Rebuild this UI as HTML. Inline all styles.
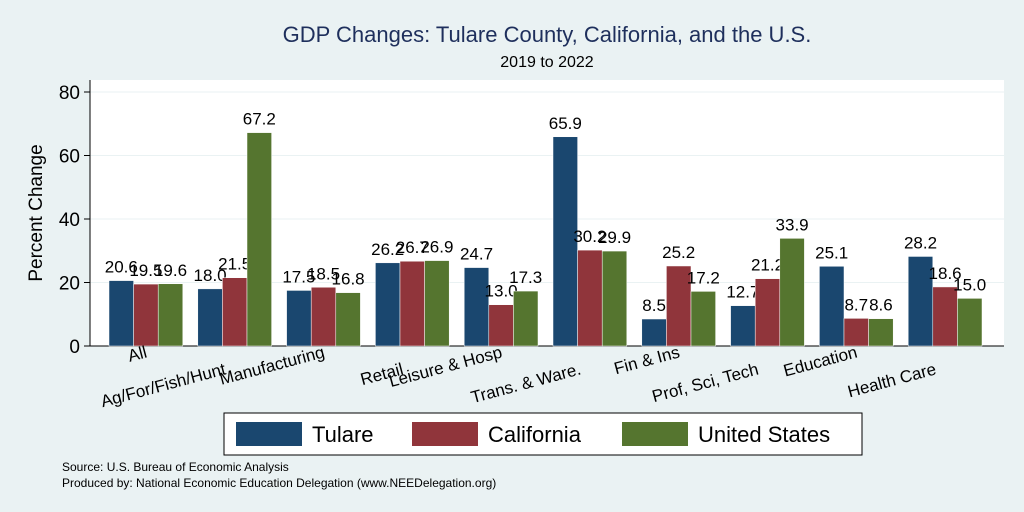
<!DOCTYPE html>
<html><head><meta charset="utf-8"><style>
body{margin:0;background:#eaf2f3;}
svg{display:block;font-family:"Liberation Sans",sans-serif;}
</style></head><body>
<svg id="c" width="1024" height="512">
<rect x="0" y="0" width="1024" height="512" fill="#eaf2f3"/>
<rect x="90" y="80" width="914" height="266" fill="#fff"/>
<text x="547" y="42" text-anchor="middle" font-size="22" fill="#1e2f5c">GDP Changes: Tulare County, California, and the U.S.</text>
<text x="547" y="67" text-anchor="middle" font-size="16" fill="#000">2019 to 2022</text>
<text transform="translate(42,213) rotate(-90)" text-anchor="middle" font-size="19">Percent Change</text>
<rect x="224" y="413" width="638" height="42" fill="#fff" stroke="#000" stroke-width="1"/>
<g id="g"></g>
<text x="62" y="471" font-size="12">Source: U.S. Bureau of Economic Analysis</text>
<text x="62" y="487" font-size="12">Produced by: National Economic Education Delegation (www.NEEDelegation.org)</text>
</svg>
<script>
const categories=["All","Ag/For/Fish/Hunt","Manufacturing","Retail","Leisure & Hosp","Trans. & Ware.","Fin & Ins","Prof, Sci, Tech","Education","Health Care"];
const tulare=[20.6,18.0,17.5,26.2,24.7,65.9,8.5,12.7,25.1,28.2];
const california=[19.5,21.5,18.5,26.7,13.0,30.2,25.2,21.2,8.7,18.6];
const unitedStates=[19.6,67.2,16.8,26.9,17.3,29.9,17.2,33.9,8.6,15.0];
const yTicks=[0,20,40,60,80];
const seriesNames=["Tulare","California","United States"];
const colors=["#1a476f","#90353b","#55752f"];
const NS="http://www.w3.org/2000/svg";
const g=document.getElementById('g');
const y=v=>346-v*(254/80);
const x0=109,step=88.8,bw=24.6;
function mk(t,a,p){const e=document.createElementNS(NS,t);for(const k in a)e.setAttribute(k,a[k]);(p||g).appendChild(e);return e;}
yTicks.forEach(t=>{
 if(t>0){const l=mk('line',{x1:90,x2:1004,y1:y(t),y2:y(t),stroke:'#eaf2f3','stroke-width':1});
 
 }
 const tk=mk('line',{x1:84,x2:90,y1:y(t),y2:y(t),stroke:'#000'});
 
 
 const tx=mk('text',{x:80,y:y(t)+7,'text-anchor':'end','font-size':19});tx.textContent=t;
 
 
});
const ax=mk('line',{x1:90,x2:90,y1:80,y2:346,stroke:'#000'});


const bx=mk('line',{x1:90,x2:1004,y1:346,y2:346,stroke:'#000'});


const series=[tulare,california,unitedStates];
categories.forEach((c,i)=>{
 series.forEach((s,j)=>{
  const xs=x0+i*step+j*bw,v=s[i];
  const r=mk('rect',{x:xs,y:y(v),width:bw,height:346-y(v),fill:colors[j],stroke:'#fff','stroke-width':0.5});
  
  
  const t=mk('text',{x:xs+bw/2,y:y(v)-8,'text-anchor':'middle','font-size':17});t.textContent=v.toFixed(1);
  
  
 });
 const cx=x0+i*step+bw*1.5+(i%2===0?2:-8), cy=i%2===0?357:374;
 const lt=mk('text',{x:cx,y:cy,'text-anchor':'end','font-size':17,transform:`rotate(-15 ${cx} ${cy})`});lt.textContent=c;
 
 
});
const lx=[236,412,622];
seriesNames.forEach((n,j)=>{
 const r=mk('rect',{x:lx[j],y:422,width:66,height:24,fill:colors[j]});
 
 
 const t=mk('text',{x:lx[j]+76,y:442,'font-size':22});t.textContent=n;
 
 
});
</script>
</body></html>
